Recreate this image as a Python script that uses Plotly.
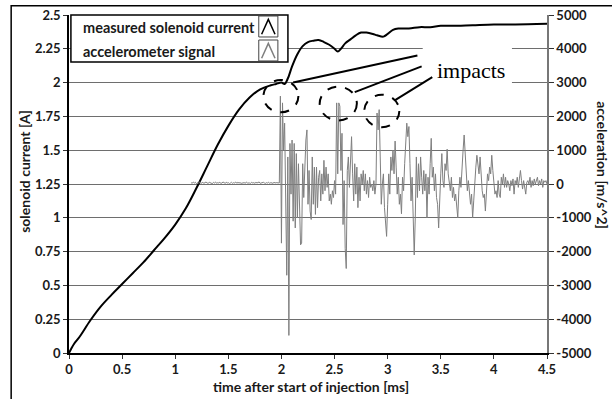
import numpy as np
import plotly.graph_objects as go

# ---------------- data ----------------
current_t = [0, 0.02, 0.05, 0.1, 0.2, 0.3, 0.4, 0.5, 0.6, 0.7, 0.8, 0.9, 1.0, 1.1, 1.2,
             1.3, 1.4, 1.5, 1.6, 1.7, 1.8, 1.9, 1.95, 2.0, 2.03, 2.06, 2.1, 2.15, 2.2,
             2.25, 2.3, 2.35, 2.4, 2.45, 2.5, 2.53, 2.56, 2.6, 2.65, 2.7, 2.75, 2.8,
             2.86, 2.9, 2.96, 3.0, 3.05, 3.1, 3.2, 3.3, 3.4, 3.5, 3.6, 3.8, 4.0, 4.2, 4.5]
current_a = [0, 0.03, 0.07, 0.12, 0.24, 0.345, 0.43, 0.51, 0.59, 0.67, 0.76, 0.85, 0.95, 1.07, 1.22,
             1.38, 1.54, 1.68, 1.80, 1.89, 1.95, 1.98, 1.99, 2.00, 1.99, 2.03, 2.12, 2.21, 2.27,
             2.30, 2.31, 2.315, 2.30, 2.28, 2.25, 2.23, 2.25, 2.29, 2.32, 2.35, 2.37, 2.37,
             2.36, 2.35, 2.34, 2.36, 2.39, 2.40, 2.40, 2.41, 2.41, 2.42, 2.42, 2.425, 2.43, 2.43, 2.435]

acc_t_start = 1.15
acc_dt = 0.01
acc_baseline = [40, 20, 60, 30, 50, 10, 40, 30, 60, 20, 30, 50, 20, 40, 60, 30, 20, 50, 40, 30,
                10, 50, 30, 60, 20, 40, 30, 50, 20, 30, 60, 40, 20, 50, 30, 40, 10, 30, 50, 20,
                40, 30, 60, 20, 50, 30, 40, 20, 30, 50, 40, 20, 60, 30, 40, 30, 20, 50, 30, 40,
                20, 50, 30, 40, 60, 20, 30, 40, 50, 30, 20, 40, 30, 50, 20, 40, 30, 20, 50, 30,
                40, 30, 20]
acc_impacts = [30, 2600, -1750, 2400, 1000, 1800, -600, -2700, 800, -4480,
               1200, -300, 1300, -1100, 1200, -1300, 900, -1000, 600, -900,
               -1800, -1750, 600, -400, 900, 1300, 1600, -600, 400, -800,
               -1050, 800, -600, 500, -900, 500, -700, 200, 400, -500,
               300, -300, 700, -200, 500, -100, 300, -500, -300, -600,
               -200, -400, 100, -300, 2400, 300, 2400, 2300, 400, 1500,
               -1200, 100, -1900, -2500, 400, 800, -100, 1000, 1400, 300,
               -500, 600, -300, 500, -700, 200, -500, 300, 0, 400,
               -200, 300, -300, 100, -400, 200, -100, 0, -200, 100,
               -300, 0, 2100, 1600, 2200, 800, -600, 0, 300, -700,
               -1200, -1550, -600, 300, -300, 800, 400, 1000, 300, 1270,
               500, -300, 200, -600, -300, -880, 200, -200, 600, 1200,
               1800, 1400, 1700, 600, -500, 200, -1200, -2100, -1000, 800,
               -400, 600, -200, 800, 200, -300, 400, -200, 300, -1000,
               200, -300, 600, 1350, 200, 500, -200, 300, -400, -600,
               -1300, -200, 300, 900, 100, -100, 600, 400, 1030, 300,
               100, -200, 200, -400, -100, -500, -300, -800, -1000, -200,
               200, -100, 600, 1000, 1450, 800, 300, -200, 100, -400,
               -600, -300, -1000, -500, 100, 500, 850, 600, 300, 800,
               100, -200, -400, -300, -800, -200, 300, 100, 500, 300,
               850, 400, -100, -300, -200, -400, 100, -300, -400, 200,
               0, 300, -100, 200, -100, 100, 0, -200, 100, -50,
               150, -300, 100, 0, 200, -100, 150, 400, 100, -150,
               100, -50, -300, 50, 100, 0, 200, -100, 100, -50,
               150, 0, 100, 200, -50, 100, 0, 150, -100, 100,
               50, 100, 0]
acc_values = acc_baseline + acc_impacts
acc_t = np.round(acc_t_start + acc_dt * np.arange(len(acc_values)), 4)

x_ticks = [0, 0.5, 1, 1.5, 2, 2.5, 3, 3.5, 4, 4.5]
y_left_ticks = [0, 0.25, 0.5, 0.75, 1, 1.25, 1.5, 1.75, 2, 2.25, 2.5]
y_right_ticks = [-5000, -4000, -3000, -2000, -1000, 0, 1000, 2000, 3000, 4000, 5000]
y_right_labels = [str(v) for v in y_right_ticks]

legend_labels = ["measured solenoid current", "accelerometer signal"]
impacts_label = "impacts"

# ---------------- figure ----------------
FONT = "Lato"
fig = go.Figure()
fig.add_trace(go.Scatter(x=acc_t, y=acc_values, mode="lines", yaxis="y2",
                         line=dict(color="#7f7f7f", width=1), name=legend_labels[1]))
fig.add_trace(go.Scatter(x=current_t, y=current_a, mode="lines", line_shape="spline",
                         line=dict(color="black", width=2), name=legend_labels[0]))

tickfont = dict(family=FONT, size=13, color="#1a1a1a", weight="bold")
fig.update_layout(
    width=612, height=399,
    margin=dict(l=69, r=65, t=15, b=46, autoexpand=False),
    paper_bgcolor="white", plot_bgcolor="white",
    showlegend=False,
    xaxis=dict(range=[0, 4.5], tickvals=x_ticks, showgrid=False, zeroline=False,
               showline=True, linecolor="black", linewidth=1.5, automargin=False,
               ticks="outside", ticklen=4, tickcolor="#333", tickfont=tickfont),
    yaxis=dict(range=[0, 2.5], tickvals=y_left_ticks, showgrid=True, gridcolor="#6e6e6e",
               gridwidth=1, zeroline=False, showline=True, linecolor="black", linewidth=1.5,
               automargin=False,
               ticks="outside", ticklen=4, tickcolor="#333", tickfont=tickfont),
    yaxis2=dict(range=[-5000, 5000], tickvals=y_right_ticks, ticktext=y_right_labels,
                overlaying="y", side="right", showgrid=False, zeroline=False,
                showline=True, linecolor="#777", linewidth=1.5, automargin=False,
                ticks="outside", ticklen=5, tickcolor="#333", tickfont=tickfont),
)

titlefont = dict(family=FONT, size=14, color="#1a1a1a", weight="bold")
fig.add_annotation(text="time after start of injection [ms]", xref="paper", yref="paper",
                   x=0.506, y=-0.098, showarrow=False, font=titlefont,
                   xanchor="center", yanchor="middle")
fig.add_annotation(text="solenoid current [A]", xref="paper", yref="paper",
                   x=-0.092, y=0.536, textangle=-90, showarrow=False, font=titlefont,
                   xanchor="center", yanchor="middle")
fig.add_annotation(text="acceleration [m/s^2]", xref="paper", yref="paper",
                   x=1.117, y=0.556, textangle=90, showarrow=False, font=titlefont,
                   xanchor="center", yanchor="middle")

# outer frame
fig.add_shape(type="rect", xref="paper", yref="paper", x0=-0.121, x1=1.2, y0=-0.2, y1=1.027,
              line=dict(color="black", width=1.5), fillcolor="rgba(0,0,0,0)", layer="above")

# custom legend (text left, icon right)
fig.add_shape(type="rect", xref="paper", yref="paper", x0=0.004, x1=0.458, y0=0.861, y1=1.0,
              line=dict(color="black", width=1.5), fillcolor="white", layer="above")
legfont = dict(family=FONT, size=14.5, color="#1a1a1a", weight="bold")
fig.add_annotation(text=legend_labels[0], xref="paper", yref="paper", x=0.025, y=0.962,
                   xanchor="left", yanchor="middle", showarrow=False, font=legfont)
fig.add_annotation(text=legend_labels[1], xref="paper", yref="paper", x=0.025, y=0.891,
                   xanchor="left", yanchor="middle", showarrow=False, font=legfont)
for (y0, y1, col) in [(0.935, 0.997, "black"), (0.864, 0.926, "#7f7f7f")]:
    fig.add_shape(type="rect", xref="paper", yref="paper", x0=0.397, x1=0.437, y0=y0, y1=y1,
                  line=dict(color="#444", width=1), fillcolor="white", layer="above")
    ym0 = y0 + 0.008
    ym1 = y1 - 0.010
    fig.add_shape(type="path", xref="paper", yref="paper",
                  path=f"M 0.403 {ym0} L 0.417 {ym1} L 0.431 {ym0}",
                  line=dict(color=col, width=1.5), layer="above")

# impacts annotation
fig.add_shape(type="rect", xref="x", yref="y", x0=3.33, x1=4.17, y0=1.98, y1=2.29,
              fillcolor="white", line=dict(width=0), layer="above")
fig.add_annotation(text=impacts_label, xref="x", yref="y", x=3.78, y=2.09, showarrow=False,
                   xanchor="center", yanchor="middle",
                   font=dict(family="Liberation Serif", size=22, color="black"))
for (x0, x1, y0, y1) in [(1.83, 2.16, 1.78, 2.02), (2.36, 2.71, 1.72, 1.97), (2.78, 3.11, 1.67, 1.91)]:
    fig.add_shape(type="circle", xref="x", yref="y", x0=x0, x1=x1, y0=y0, y1=y1,
                  line=dict(color="black", width=2, dash="dash"), layer="above")
for (x0, y0, x1, y1) in [(2.11, 2.00, 3.28, 2.20), (2.69, 1.93, 3.32, 2.12), (3.07, 1.87, 3.42, 2.04)]:
    fig.add_shape(type="line", xref="x", yref="y", x0=x0, y0=y0, x1=x1, y1=y1,
                  line=dict(color="black", width=2), layer="above")

fig.write_html("out.html", config={"displayModeBar": False},
               post_script="document.body.style.margin='0';")
